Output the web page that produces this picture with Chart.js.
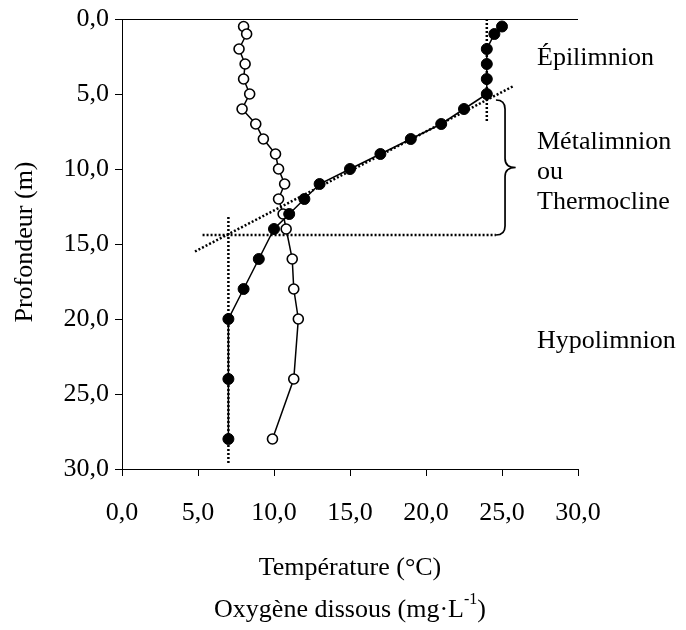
<!DOCTYPE html>
<html>
<head>
<meta charset="utf-8">
<script src="https://cdn.jsdelivr.net/npm/chart.js@4.4.1/dist/chart.umd.min.js"></script>
<style>
  body { margin: 0; background: #fff; }
  canvas { display: block; }
</style>
</head>
<body>
<canvas id="lakeChart" width="686" height="630"></canvas>
<script>
// DATA
const depths = [0.5, 1, 2, 3, 4, 5, 6, 7, 8, 9, 10, 11, 12, 13, 14, 16, 18, 20, 24, 28];
const temperature = [25, 24.5, 24, 24, 24, 24, 22.5, 21, 19, 17, 15, 13, 12, 11, 10, 9, 8, 7, 7, 7];
const oxygen = [8, 8.2, 7.7, 8.1, 8, 8.4, 7.9, 8.8, 9.3, 10.1, 10.3, 10.7, 10.3, 10.6, 10.8, 11.2, 11.3, 11.6, 11.3, 9.9];
const tickValues = [0, 5, 10, 15, 20, 25, 30];

// reference lines (value, depth)
const epiVertical = [[24, 0], [24, 6.8]];
const hypoVertical = [[7, 13.2], [7, 29.6]];
const thermoHorizontal = [[5.3, 14.4], [24.6, 14.4]];
const thermoSlope = [[25.7, 4.5], [4.8, 15.5]];
const braceSpan = [5.4, 14.4];   // depths covered by the brace
const braceX = [24.6, 25.2, 25.9]; // start, spine, tip

const zoneLabels = [
  { text: 'Épilimnion', depth: 2.6 },
  { text: 'Métalimnion', depth: 8.2 },
  { text: 'ou', depth: 10.2 },
  { text: 'Thermocline', depth: 12.2 },
  { text: 'Hypolimnion', depth: 21.45 }
];

const FONT = '"Liberation Serif", "Times New Roman", serif';
const SIZE = 26;
const fmt = v => Number(v).toFixed(1).replace('.', ',');
const toPts = arr => arr.map(p => ({ x: p[0], y: p[1] }));

function dotted(pts) {
  return {
    data: toPts(pts),
    showLine: true,
    borderColor: '#000',
    borderWidth: 2.5,
    borderDash: [2, 2],
    pointRadius: 0,
    fill: false,
    clip: false
  };
}

// extra drawing: top border, brace, zone names, axis titles
const extras = {
  id: 'extras',
  afterDatasetsDraw(chart) {
    const { ctx, chartArea: a, scales: { x, y } } = chart;
    ctx.save();
    ctx.strokeStyle = '#000';
    ctx.lineWidth = 1;
    ctx.beginPath();
    ctx.moveTo(a.left, a.top + 0.5);
    ctx.lineTo(a.right, a.top + 0.5);
    ctx.stroke();

    // brace
    const x0 = x.getPixelForValue(braceX[0]);
    const x1 = x.getPixelForValue(braceX[1]);
    const xt = x.getPixelForValue(braceX[2]);
    const yT = y.getPixelForValue(braceSpan[0]);
    const yB = y.getPixelForValue(braceSpan[1]);
    const yM = (yT + yB) / 2;
    const r = 9;
    ctx.lineWidth = 1.7;
    ctx.beginPath();
    ctx.moveTo(x0, yT);
    ctx.quadraticCurveTo(x1, yT, x1, yT + r);
    ctx.lineTo(x1, yM - r);
    ctx.quadraticCurveTo(x1, yM, xt, yM);
    ctx.quadraticCurveTo(x1, yM, x1, yM + r);
    ctx.lineTo(x1, yB - r);
    ctx.quadraticCurveTo(x1, yB, x0, yB);
    ctx.stroke();

    // zone names
    ctx.fillStyle = '#000';
    ctx.font = SIZE + 'px ' + FONT;
    ctx.textAlign = 'left';
    ctx.textBaseline = 'middle';
    zoneLabels.forEach(l => ctx.fillText(l.text, 537, y.getPixelForValue(l.depth)));

    // y title
    ctx.save();
    ctx.translate(25, 242);
    ctx.rotate(-Math.PI / 2);
    ctx.textAlign = 'center';
    ctx.fillText('Profondeur (m)', 0, 0);
    ctx.restore();

    // x titles
    const cx = (a.left + a.right) / 2;
    ctx.textAlign = 'center';
    ctx.fillText('Température (°C)', cx, 568);
    const main = 'Oxygène dissous (mg·L';
    const wMain = ctx.measureText(main).width;
    const wClose = ctx.measureText(')').width;
    ctx.font = '16px ' + FONT;
    const wSup = ctx.measureText('-1').width;
    let sx = cx - (wMain + wSup + wClose) / 2;
    ctx.textAlign = 'left';
    ctx.font = SIZE + 'px ' + FONT;
    ctx.fillText(main, sx, 610);
    sx += wMain;
    ctx.font = '16px ' + FONT;
    ctx.fillText('-1', sx, 600);
    sx += wSup;
    ctx.font = SIZE + 'px ' + FONT;
    ctx.fillText(')', sx, 610);
    ctx.restore();
  }
};

new Chart(document.getElementById('lakeChart').getContext('2d'), {
  type: 'scatter',
  data: {
    datasets: [
      {
        label: 'Température',
        data: depths.map((d, i) => ({ x: temperature[i], y: d })),
        showLine: true,
        borderColor: '#000',
        borderWidth: 1.5,
        pointBackgroundColor: '#000',
        pointBorderColor: '#000',
        pointRadius: 5.5,
        pointBorderWidth: 1
      },
      {
        label: 'Oxygène dissous',
        data: depths.map((d, i) => ({ x: oxygen[i], y: d })),
        showLine: true,
        borderColor: '#000',
        borderWidth: 1.5,
        pointBackgroundColor: '#fff',
        pointBorderColor: '#000',
        pointRadius: 5,
        pointBorderWidth: 1.6
      },
      dotted(epiVertical),
      dotted(hypoVertical),
      dotted(thermoHorizontal),
      dotted(thermoSlope)
    ]
  },
  options: {
    responsive: false,
    animation: false,
    layout: { padding: { top: 14, right: 108, left: 0, bottom: 0 } },
    plugins: {
      legend: { display: false },
      tooltip: { enabled: false }
    },
    scales: {
      x: {
        type: 'linear',
        position: 'bottom',
        min: 0,
        max: 30,
        afterBuildTicks: s => { s.ticks = tickValues.map(v => ({ value: v })); },
        afterFit: s => { s.height = 161; },
        grid: { drawOnChartArea: false, drawTicks: true, tickLength: 7, color: '#000' },
        border: { display: true, color: '#000', width: 1 },
        ticks: {
          color: '#000',
          font: { family: FONT, size: SIZE },
          padding: 22,
          maxRotation: 0,
          callback: fmt
        }
      },
      y: {
        type: 'linear',
        reverse: true,
        min: 0,
        max: 30,
        afterBuildTicks: s => { s.ticks = tickValues.map(v => ({ value: v })); },
        afterFit: s => { s.width = 122; },
        grid: { drawOnChartArea: false, drawTicks: true, tickLength: 7, color: '#000' },
        border: { display: true, color: '#000', width: 1 },
        ticks: {
          color: '#000',
          font: { family: FONT, size: SIZE, lineHeight: 1 },
          padding: 6,
          callback: fmt
        }
      }
    }
  },
  plugins: [extras]
});
</script>
</body>
</html>
